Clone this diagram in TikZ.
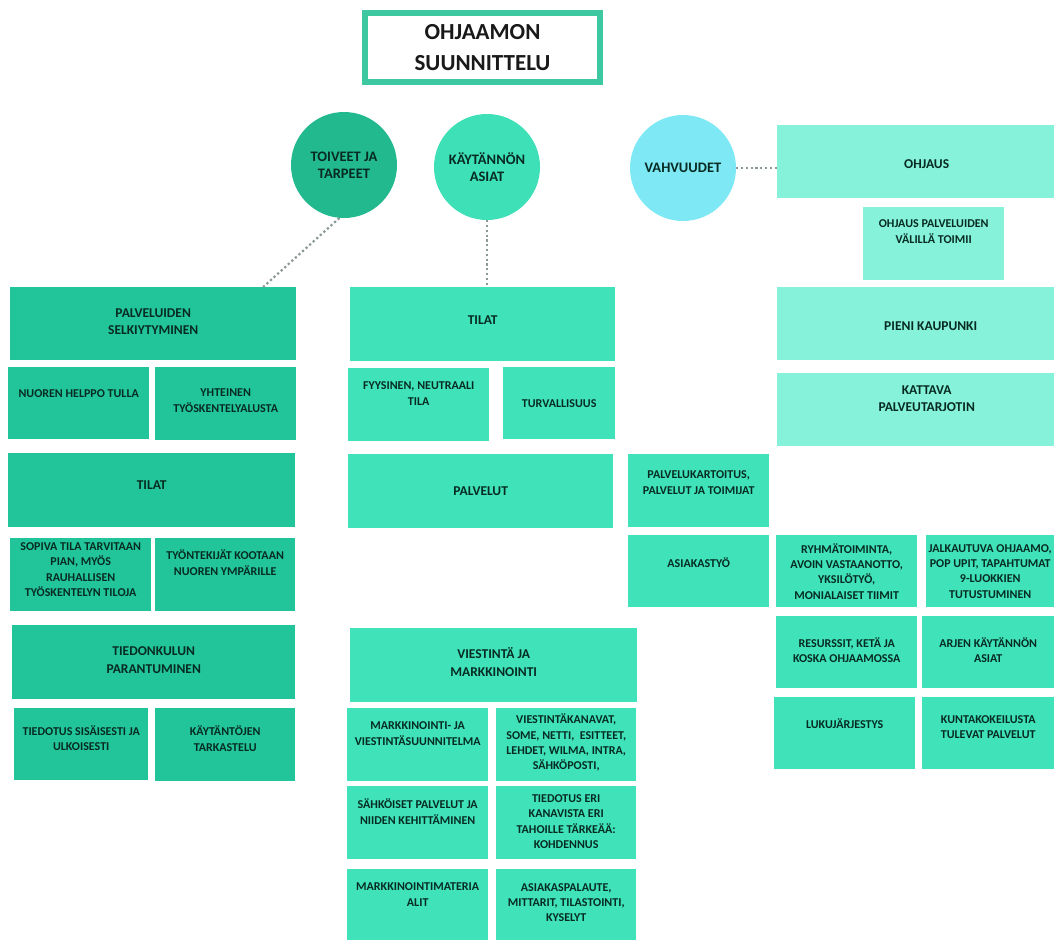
\documentclass[tikz,border=0pt]{standalone}
\usepackage{fontspec}
\setmainfont{Carlito}
\usepackage{xcolor}
\usetikzlibrary{positioning}

\definecolor{ink}{HTML}{072B22}
\definecolor{deepteal}{HTML}{22C49A}
\definecolor{aqua}{HTML}{3FE2B9}
\definecolor{mint}{HTML}{85F2D9}
\definecolor{bubA}{HTML}{22B98E}
\definecolor{bubB}{HTML}{3EE0B8}
\definecolor{bubC}{HTML}{7FE8F5}
\definecolor{titleframe}{HTML}{3DC8A1}
\definecolor{dotgray}{HTML}{8A9997}

\begin{document}
\begin{tikzpicture}[x=1pt, y=-1pt,
    cell/.style={rectangle, anchor=north west, inner sep=0pt},
    sz/.style 2 args={minimum width=#1pt, minimum height=#2pt},
    lcell/.style={cell, fill=deepteal},
    mcell/.style={cell, fill=aqua},
    rcell/.style={cell, fill=mint},
    celltext/.style={anchor=center, align=center, text=ink, inner sep=0pt, font=\bfseries\fontsize{12}{15.3}\selectfont},
    headtext/.style={celltext, font=\bfseries\fontsize{13.5}{17.5}\selectfont},
    bubble/.style={circle, minimum size=106pt, inner sep=0pt, align=center, text=ink, font=\bfseries\fontsize{14.5}{17}\selectfont},
    link/.style={dotgray, line width=2.2pt, dash pattern=on 2.2pt off 2.6pt}]

    \path[use as bounding box, fill=white] (0,0) rectangle (1054,940);

    % Title
    \node[draw=titleframe, line width=6pt, minimum width=235pt, minimum height=69pt, inner sep=0pt, align=center, text=black!90, font=\bfseries\fontsize{23}{31}\selectfont] (title) at (482.5,47.5) {OHJAAMON\\SUUNNITTELU};

    % Circles
    \node[bubble, fill=bubA] (toive) at (344,165) {TOIVEET JA\\TARPEET};
    \node[bubble, fill=bubB] (kayt) at (487,167) {KÄYTÄNNÖN\\ASIAT};
    \node[bubble, fill=bubC] (vahv) at (683,168) {VAHVUUDET};

    % Toiveet ja tarpeet
    \node[lcell, sz={286}{73}, label={[headtext, yshift=2pt]center:{PALVELUIDEN\\SELKIYTYMINEN}}] (pselk) at (10,287) {};
    \node[lcell, sz={141}{72}, label={[celltext, yshift=10pt]center:{NUOREN HELPPO TULLA}}] (nuoren) at (8,367) {};
    \node[lcell, sz={141}{73}, label={[celltext, yshift=3pt]center:{YHTEINEN\\TYÖSKENTELYALUSTA}}] (yhteinen) at (155,367) {};
    \node[lcell, sz={287}{74}, label={[headtext, yshift=5pt]center:{TILAT}}] (ltilat) at (8,453) {};
    \node[lcell, sz={141}{73}, label={[celltext, yshift=5pt]center:{SOPIVA TILA TARVITAAN\\PIAN, MYÖS\\RAUHALLISEN\\TYÖSKENTELYN TILOJA}}] (sopiva) at (10,538) {};
    \node[lcell, sz={140}{73}, label={[celltext, yshift=12pt]center:{TYÖNTEKIJÄT KOOTAAN\\NUOREN YMPÄRILLE}}] (tyont) at (155,538) {};
    \node[lcell, sz={283}{74}, label={[headtext, yshift=2pt]center:{TIEDONKULUN\\PARANTUMINEN}}] (tiedon) at (12,625) {};
    \node[lcell, sz={134}{72}, label={[celltext, yshift=6pt]center:{TIEDOTUS SISÄISESTI JA\\ULKOISESTI}}] (tiedsis) at (14,708) {};
    \node[lcell, sz={140}{73}, label={[celltext, yshift=6pt]center:{KÄYTÄNTÖJEN\\TARKASTELU}}] (kaytant) at (155,708) {};

    % Kaytannon asiat
    \node[mcell, sz={265}{74}, label={[headtext, yshift=4pt]center:{TILAT}}] (mtilat) at (350,287) {};
    \node[mcell, sz={141}{73}, label={[celltext, yshift=11pt]center:{FYYSINEN, NEUTRAALI\\TILA}}] (fyys) at (348,368) {};
    \node[mcell, sz={112}{72}, label={[celltext]center:{TURVALLISUUS}}] (turva) at (503,367) {};
    \node[mcell, sz={265}{74}, label={[headtext]center:{PALVELUT}}] (palv) at (348,454) {};
    \node[mcell, sz={141}{73}, label={[celltext, yshift=8pt]center:{PALVELUKARTOITUS,\\PALVELUT JA TOIMIJAT}}] (kart) at (628,454) {};
    \node[mcell, sz={141}{72}, label={[celltext, yshift=9pt]center:{ASIAKASTYÖ}}] (asiak) at (628,535) {};
    \node[mcell, sz={141}{72}, label={[celltext]center:{RYHMÄTOIMINTA,\\AVOIN VASTAANOTTO,\\YKSILÖTYÖ,\\MONIALAISET TIIMIT}}] (ryhma) at (776,535) {};
    \node[mcell, sz={128}{72}, label={[celltext]center:{JALKAUTUVA OHJAAMO,\\POP UPIT, TAPAHTUMAT\\9-LUOKKIEN\\TUTUSTUMINEN}}] (jalk) at (926,535) {};
    \node[mcell, sz={141}{72}, label={[celltext, yshift=2pt]center:{RESURSSIT, KETÄ JA\\KOSKA OHJAAMOSSA}}] (resurs) at (776,616) {};
    \node[mcell, sz={132}{72}, label={[celltext, yshift=2pt]center:{ARJEN KÄYTÄNNÖN\\ASIAT}}] (arjen) at (922,616) {};
    \node[mcell, sz={141}{72}, label={[celltext, yshift=10pt]center:{LUKUJÄRJESTYS}}] (luku) at (774,697) {};
    \node[mcell, sz={132}{72}, label={[celltext, yshift=6pt]center:{KUNTAKOKEILUSTA\\TULEVAT PALVELUT}}] (kunta) at (922,697) {};
    \node[mcell, sz={287}{74}, label={[headtext, yshift=3pt]center:{VIESTINTÄ JA\\MARKKINOINTI}}] (viest) at (350,628) {};
    \node[mcell, sz={141}{73}, label={[celltext, yshift=11pt]center:{MARKKINOINTI- JA\\VIESTINTÄSUUNNITELMA}}] (msuun) at (347,708) {};
    \node[mcell, sz={140}{73}, label={[celltext, yshift=2pt]center:{VIESTINTÄKANAVAT,\\SOME, NETTI,\ \ ESITTEET,\\LEHDET, WILMA, INTRA,\\SÄHKÖPOSTI,}}] (kanavat) at (496,708) {};
    \node[mcell, sz={141}{73}, label={[celltext, yshift=11pt]center:{SÄHKÖISET PALVELUT JA\\NIIDEN KEHITTÄMINEN}}] (sahk) at (347,786) {};
    \node[mcell, sz={140}{73}, label={[celltext, yshift=1pt]center:{TIEDOTUS ERI\\KANAVISTA ERI\\TAHOILLE TÄRKEÄÄ:\\KOHDENNUS}}] (tiederi) at (496,786) {};
    \node[mcell, sz={141}{71}, label={[celltext, yshift=10pt]center:{MARKKINOINTIMATERIA\\ALIT}}] (mater) at (347,869) {};
    \node[mcell, sz={140}{71}, label={[celltext, yshift=2pt]center:{ASIAKASPALAUTE,\\MITTARIT, TILASTOINTI,\\KYSELYT}}] (palaute) at (496,869) {};

    % Vahvuudet
    \node[rcell, sz={277}{73}, label={[headtext, xshift=11pt, yshift=-2pt]center:{OHJAUS}}] (ohjaus) at (777,125) {};
    \node[rcell, sz={141}{73}, label={[celltext, yshift=12pt]center:{OHJAUS PALVELUIDEN\\VÄLILLÄ TOIMII}}] (ohjpalv) at (863,207) {};
    \node[rcell, sz={277}{73}, label={[headtext, xshift=15pt, yshift=-2pt]center:{PIENI KAUPUNKI}}] (pieni) at (777,287) {};
    \node[rcell, sz={277}{73}, label={[headtext, xshift=11pt, yshift=11pt]center:{KATTAVA\\PALVEUTARJOTIN}}] (katt) at (777,373) {};

    % Dotted links
    \draw[link] (toive.265) -- ([xshift=110pt]pselk.north);
    \draw[link] (kayt.south) -- (kayt.south |- mtilat.north);
    \draw[link] (vahv.east) -- (vahv.east -| ohjaus.west);
\end{tikzpicture}
\end{document}
